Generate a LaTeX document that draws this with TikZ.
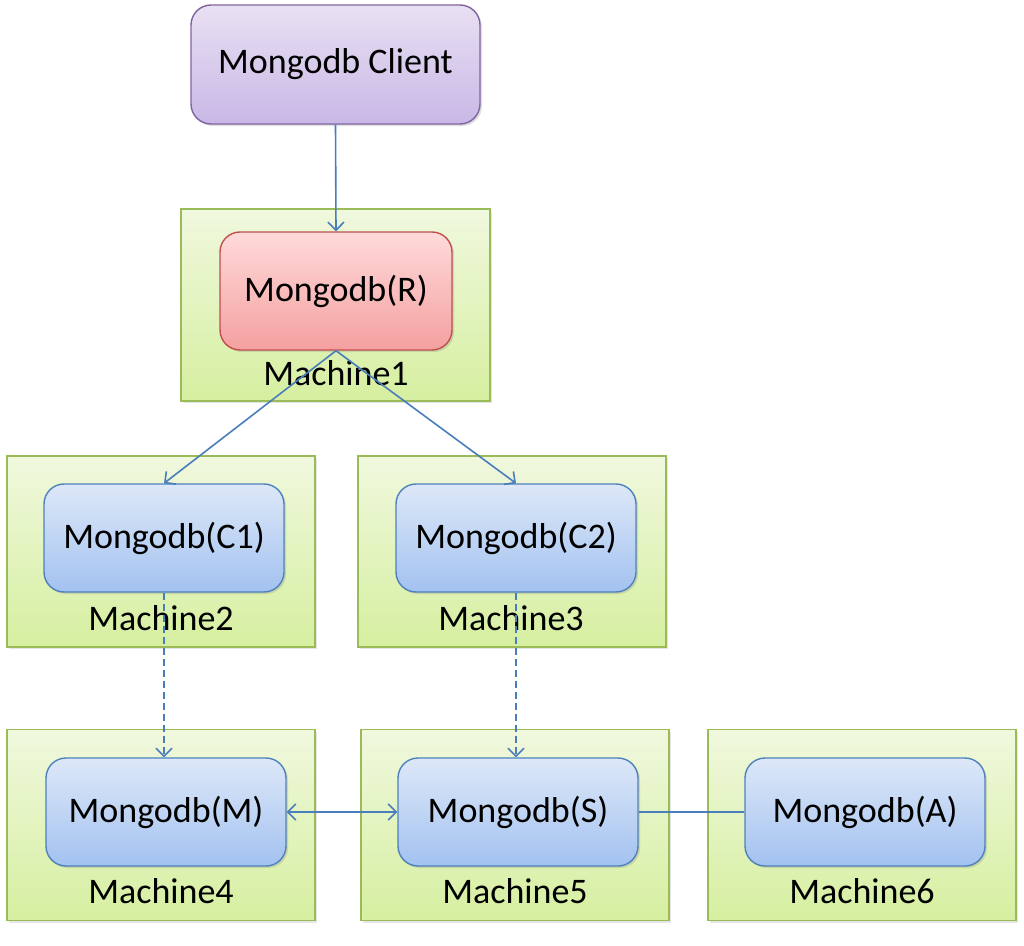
\documentclass[tikz,border=0pt]{standalone}
\usepackage{fontspec}
\setmainfont{Carlito}
\usepackage{xcolor}
\usetikzlibrary{positioning,arrows.meta,shadows}

\definecolor{linkblue}{HTML}{4A7EBB}
\definecolor{boxgreen}{HTML}{9BBB59}
\definecolor{boxtop}{HTML}{F0F8DE}
\definecolor{boxbottom}{HTML}{D6EFA0}
\definecolor{clientpurple}{HTML}{8064A2}
\definecolor{clienttop}{HTML}{E8E0F3}
\definecolor{clientbottom}{HTML}{C9B8E6}
\definecolor{routerred}{HTML}{C0504D}
\definecolor{routertop}{HTML}{FFDADA}
\definecolor{routerbottom}{HTML}{F4A0A0}
\definecolor{nodeblue}{HTML}{4F81BD}
\definecolor{shardtop}{HTML}{DDE8F8}
\definecolor{shardbottom}{HTML}{A3C2F0}

\begin{document}
\begin{tikzpicture}[
    x=1pt, y=-1pt,
    every node/.style={font=\fontsize{36}{42}\selectfont, inner sep=0pt},
    machine/.style={draw=boxgreen, line width=1.4pt, top color=boxtop, bottom color=boxbottom,
        drop shadow={opacity=0.2, shadow xshift=2pt, shadow yshift=-2pt},
        minimum width=308pt, minimum height=191pt},
    mongo/.style={rounded corners=20pt, line width=1.4pt, minimum width=240pt, minimum height=108pt,
        drop shadow={opacity=0.25, shadow xshift=2pt, shadow yshift=-2pt}},
    shard/.style={mongo, draw=nodeblue, top color=shardtop, bottom color=shardbottom},
    link/.style={draw=linkblue, line width=1.6pt},
    longdash/.style={dash pattern=on 7pt off 4pt},
    tip/.style={-{Straight Barb[length=8pt,width=16pt]}}
]
    \useasboundingbox (0,0) rectangle (1024,945);

    % machines
    \node [machine, minimum width=309pt, minimum height=192pt] (m1) at (335.5,305) {};
    \node [machine] (m2) at (161,551.5) {};
    \node [machine] (m3) at (512,551.5) {};
    \node [machine] (m4) at (161,825) {};
    \node [machine] (m5) at (515,825) {};
    \node [machine] (m6) at (862,825) {};

    % processes
    \node [mongo, draw=clientpurple, top color=clienttop, bottom color=clientbottom,
        minimum width=289pt, minimum height=119pt] (client) at (335.5,64.5) {Mongodb Client};
    \node [mongo, draw=routerred, top color=routertop, bottom color=routerbottom,
        minimum width=232pt, minimum height=118pt] (router) at (336,291) {Mongodb(R)};
    \node [shard] (c1) at (164,538) {Mongodb(C1)};
    \node [shard] (c2) at (516,538) {Mongodb(C2)};
    \node [shard] (master) at (166,812) {Mongodb(M)};
    \node [shard] (slave) at (518,812) {Mongodb(S)};
    \node [shard] (arbiter) at (865,812) {Mongodb(A)};

    % labels
    \node (l1) at (336,373) {Machine1};
    \node (l2) at (161,618) {Machine2};
    \node (l3) at (511,618) {Machine3};
    \node (l4) at (161,891) {Machine4};
    \node (l5) at (515,891) {Machine5};
    \node (l6) at (862,891) {Machine6};

    % connections
    \draw [link, tip] (client.south) -- (router.north);
    \draw [link, tip] (router.south) -- (c1.north);
    \draw [link, tip] (router.south) -- (c2.north);
    \draw [link, tip, longdash] (c1.south) -- (c1.south |- master.north);
    \draw [link, tip, longdash] (c2.south) -- (c2.south |- slave.north);
    \draw [link, {Straight Barb[length=8pt,width=16pt]}-{Straight Barb[length=8pt,width=16pt]}] (master.east) -- (slave.west);
    \draw [link] (slave.east) -- (arbiter.west);
\end{tikzpicture}
\end{document}
